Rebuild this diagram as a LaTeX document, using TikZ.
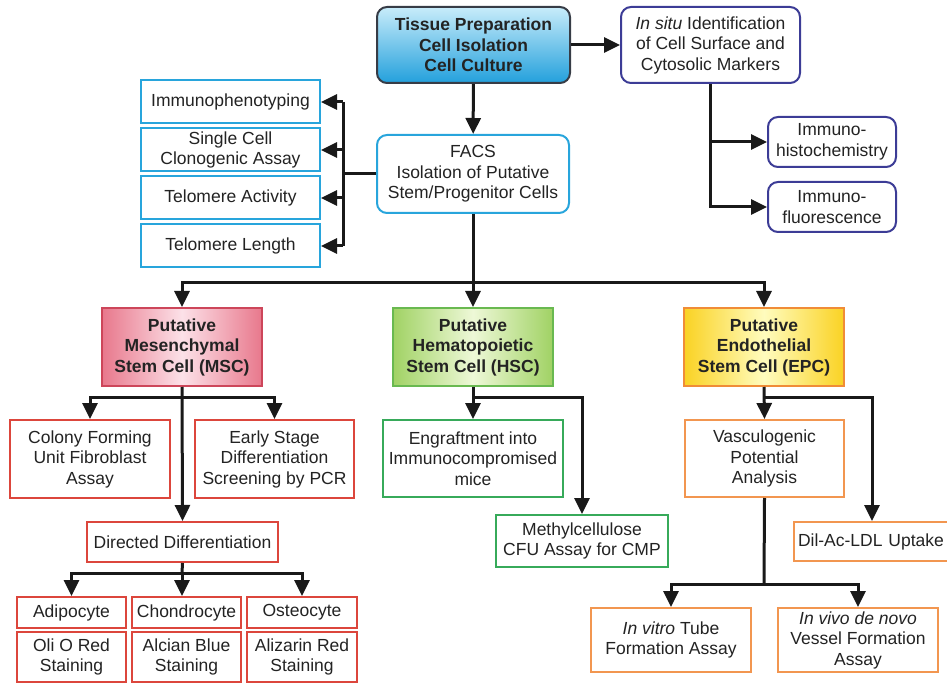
\documentclass[tikz,border=0pt]{standalone}
\usepackage{fontspec}
\setmainfont{Liberation Sans}
\usetikzlibrary{arrows.meta}

\definecolor{linegray}{RGB}{25,25,25}
\definecolor{textgray}{RGB}{35,35,35}
\definecolor{tissuetop}{RGB}{200,236,250}
\definecolor{tissuebot}{RGB}{35,160,220}
\definecolor{tissueedge}{RGB}{55,60,70}
\definecolor{insituedge}{RGB}{60,60,150}
\definecolor{facsedge}{RGB}{40,165,220}
\definecolor{mscedge}{RGB}{205,70,90}
\definecolor{msclight}{RGB}{252,225,232}
\definecolor{mscdark}{RGB}{232,120,140}
\definecolor{hscedge}{RGB}{105,185,80}
\definecolor{hsclight}{RGB}{238,248,215}
\definecolor{hscdark}{RGB}{160,210,100}
\definecolor{epcedge}{RGB}{240,140,55}
\definecolor{epclight}{RGB}{255,252,190}
\definecolor{epcdark}{RGB}{250,210,35}
\definecolor{redline}{RGB}{220,70,60}
\definecolor{greenline}{RGB}{55,170,90}
\definecolor{orangeline}{RGB}{242,150,80}

\tikzset{
  box/.style={draw, line width=2pt, fill=white, align=center, inner sep=1pt, text=textgray,
    font=\fontsize{17.5}{20.5}\selectfont},
  roundbox/.style={box, rounded corners=10pt},
  stembox/.style={box, font=\fontsize{17.5}{20.5}\selectfont\bfseries},
  link/.style={draw=linegray, line width=3pt},
  arr/.style={link, -{Triangle[length=16pt,width=15pt]}},
}

\begin{document}
\begin{tikzpicture}[x=1pt, y=-1pt]
  \useasboundingbox (0,0) rectangle (947,684);
  % top row
  \node[roundbox, draw=tissueedge, top color=tissuetop, bottom color=tissuebot,
    font=\fontsize{17.5}{20.5}\selectfont\bfseries, minimum width=193, minimum height=76]
    (tissue) at (473.5,45) {Tissue Preparation\\Cell Isolation\\Cell Culture};
  \node[roundbox, draw=insituedge, minimum width=179, minimum height=76]
    (insitu) at (710.5,45) {\textit{In situ} Identification\\of Cell Surface and\\Cytosolic Markers};
  \node[roundbox, draw=facsedge, minimum width=192, minimum height=78]
    (facs) at (473,174) {FACS\\Isolation of Putative\\Stem/Progenitor Cells};

  % assays next to FACS
  \node[box, draw=facsedge, minimum width=179, minimum height=43] (immuno) at (230.5,102) {Immunophenotyping};
  \node[box, draw=facsedge, minimum width=179, minimum height=43] (single) at (230.5,150) {Single Cell\\Clonogenic Assay};
  \node[box, draw=facsedge, minimum width=179, minimum height=43] (telact) at (230.5,198) {Telomere Activity};
  \node[box, draw=facsedge, minimum width=179, minimum height=43] (tellen) at (230.5,246) {Telomere Length};

  % in situ methods
  \node[roundbox, draw=insituedge, minimum width=128, minimum height=50] (histo) at (832,142) {Immuno-\\histochemistry};
  \node[roundbox, draw=insituedge, minimum width=128, minimum height=50] (fluor) at (832,207) {Immuno-\\fluorescence};

  % stem cell types
  \node[stembox, draw=mscedge, left color=mscdark, right color=mscdark, middle color=msclight,
    minimum width=160, minimum height=78] (msc) at (182,347) {Putative\\Mesenchymal\\Stem Cell (MSC)};
  \node[stembox, draw=hscedge, left color=hscdark, right color=hscdark, middle color=hsclight,
    minimum width=160, minimum height=78] (hsc) at (473,347) {Putative\\Hematopoietic\\Stem Cell (HSC)};
  \node[stembox, draw=epcedge, left color=epcdark, right color=epcdark, middle color=epclight,
    minimum width=160, minimum height=78] (epc) at (764,347) {Putative\\Endothelial\\Stem Cell (EPC)};

  % MSC branch
  \node[box, draw=redline, minimum width=160, minimum height=78] (cfu) at (90,459) {Colony Forming\\Unit Fibroblast\\Assay};
  \node[box, draw=redline, minimum width=159, minimum height=78] (early) at (274.5,459) {Early Stage\\Differentiation\\Screening by PCR};
  \node[box, draw=redline, minimum width=191, minimum height=40] (dirdiff) at (182.5,542) {Directed Differentiation};
  \node[box, draw=redline, minimum width=109, minimum height=31] (adipo) at (71.5,612.5) {Adipocyte};
  \node[box, draw=redline, minimum width=109, minimum height=31] (chondro) at (186.5,612.5) {Chondrocyte};
  \node[box, draw=redline, minimum width=110, minimum height=31] (osteo) at (302,612.5) {Osteocyte};
  \node[box, draw=redline, minimum width=109, minimum height=50] (oilred) at (71.5,657) {Oli O Red\\Staining};
  \node[box, draw=redline, minimum width=109, minimum height=50] (alcian) at (186.5,657) {Alcian Blue\\Staining};
  \node[box, draw=redline, minimum width=110, minimum height=50] (alizarin) at (302,657) {Alizarin Red\\Staining};

  % HSC branch
  \node[box, draw=greenline, minimum width=180, minimum height=77] (engraft) at (473,458.5) {Engraftment into\\Immunocompromised\\mice};
  \node[box, draw=greenline, minimum width=172, minimum height=52] (methyl) at (582,541) {Methylcellulose\\CFU Assay for CMP};

  % EPC branch
  \node[box, draw=orangeline, minimum width=159, minimum height=77] (vasc) at (764.5,458.5) {Vasculogenic\\Potential\\Analysis};
  \node[box, draw=orangeline, minimum width=160, minimum height=39, text width=152, align=left]
    (dil) at (874,541.5) {Dil-Ac-LDL Uptake};
  \node[box, draw=orangeline, minimum width=160, minimum height=64] (invitro) at (671,640) {\textit{In vitro} Tube\\Formation Assay};
  \node[box, draw=orangeline, minimum width=160, minimum height=64] (invivo) at (858,640) {\textit{In vivo de novo}\\Vessel Formation\\Assay};

  % branch points
  \coordinate (lbus) at (343,174);
  \coordinate (split) at (473,283);
  \coordinate (mscsplit) at (182,397);
  \coordinate (ddsplit) at (182,573);
  \coordinate (hscsplit) at (473,397);
  \coordinate (epcsplit) at (764,397);
  \coordinate (vascsplit) at (764,584);

  % connectors
  \draw[arr] (tissue) -- (insitu);
  \draw[arr] (tissue) -- (facs);
  \draw[link] (facs.west) -- (lbus);
  \draw[link] (lbus |- immuno) -- (lbus |- tellen);
  \foreach \n in {immuno,single,telact,tellen}
    \draw[arr] (lbus |- \n) -- (\n.east);
  \draw[arr] (insitu.south) |- (fluor.west);
  \draw[arr] (insitu.south |- histo) -- (histo.west);

  \draw[link] (facs.south) -- (split);
  \draw[arr] (split) -- (hsc.north);
  \draw[arr] (split) -| (msc.north);
  \draw[arr] (split) -| (epc.north);

  \draw[arr] (msc.south) -- (dirdiff.north);
  \draw[arr] (mscsplit) -| (cfu.north);
  \draw[arr] (mscsplit) -| (early.north);
  \draw[link] (dirdiff.south) -- (ddsplit);
  \draw[arr] (ddsplit) -| (adipo.north);
  \draw[arr] (ddsplit) -- (ddsplit |- chondro.north);
  \draw[arr] (ddsplit) -| (osteo.north);

  \draw[arr] (hsc.south) -- (engraft.north);
  \draw[arr] (hscsplit) -| (methyl.north);

  \draw[arr] (epc.south) -- (vasc.north);
  \draw[arr] (epcsplit) -| ([xshift=-2]dil.north);
  \draw[link] (vasc.south) -- (vascsplit);
  \draw[arr] (vascsplit) -| (invitro.north);
  \draw[arr] (vascsplit) -| (invivo.north);
\end{tikzpicture}
\end{document}
